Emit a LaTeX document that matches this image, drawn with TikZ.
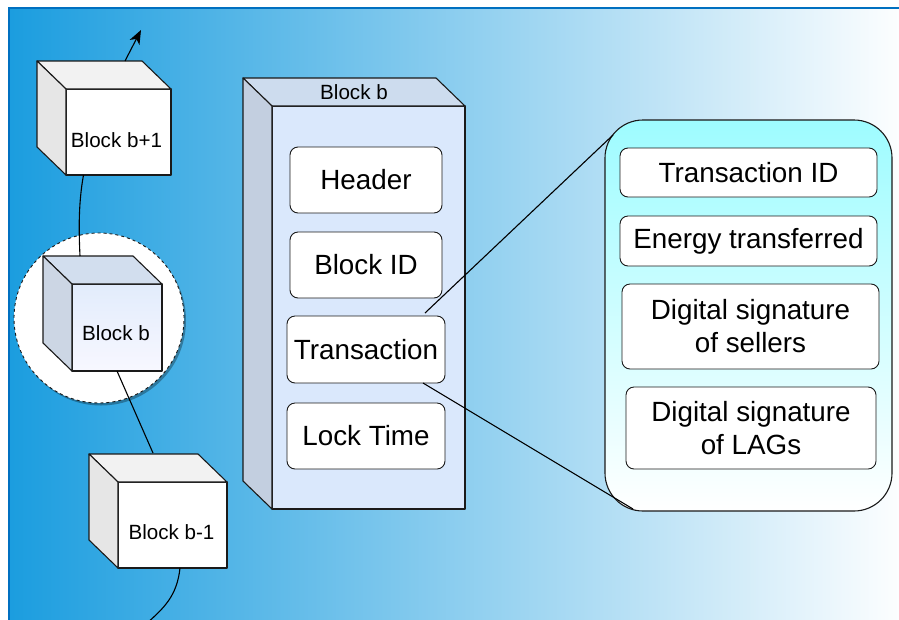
\documentclass[tikz,border=0pt]{standalone}
\usepackage{fontspec}
\setmainfont{Liberation Sans}
\usetikzlibrary{shadows,arrows.meta}

\definecolor{bgleft}{RGB}{27,157,223}
\definecolor{bgedge}{RGB}{0,112,192}
\definecolor{frontblue}{RGB}{218,232,252}
\definecolor{topblue}{RGB}{205,220,238}
\definecolor{sideblue}{RGB}{195,207,224}
\definecolor{cubeBtop}{RGB}{210,222,238}
\definecolor{cubeBside}{RGB}{204,214,228}
\definecolor{cubeBfront}{RGB}{226,236,252}
\definecolor{panelcyan}{RGB}{158,252,255}
\definecolor{greyside}{RGB}{230,230,230}
\definecolor{greytop}{RGB}{242,242,242}
\definecolor{ink}{RGB}{26,26,26}

% side and top faces of a cube whose front face is node #1
\newcommand\cubefaces[3]{%
  \filldraw[outline,fill=#3] (#1.north west) -- ++(-29,-28)
     -- ([shift={(-29,-28)}]#1.north east) -- (#1.north east) -- cycle;
  \filldraw[outline,fill=#2] (#1.north west) -- ++(-29,-28)
     -- ([shift={(-29,-28)}]#1.south west) -- (#1.south west) -- cycle;}

\begin{document}
\begin{tikzpicture}[x=1pt,y=-1pt,
  outline/.style={draw=ink,line width=1.1pt,line join=round},
  face/.style={outline,rectangle,outer sep=0pt,inner sep=0pt},
  field/.style={draw=ink,line width=0.9pt,rounded corners=8pt,fill=white,
    font=\fontsize{27.8}{33}\selectfont,align=center,inner sep=0pt,outer sep=0pt},
  blocklabel/.style={font=\fontsize{20.6}{24}\selectfont},
  link/.style={draw=black,line width=1.1pt}]

\useasboundingbox (0,0) rectangle (899,619);

% backdrop
\shade[left color=bgleft,right color=white] (9,8) rectangle (910,630);
\draw[bgedge,line width=1.4pt] (9,630) -- (9,8) -- (910,8);

% highlight around the current block
\node[circle,draw=ink,dashed,line width=0.9pt,fill=white,minimum size=170pt,
  drop shadow={shadow xshift=2pt,shadow yshift=-2.5pt,fill=black,opacity=0.3}]
  (focus) at (99,318) {};

% chain of blocks
\node[face,fill=white,minimum width=105pt,minimum height=86pt,
  label={[blocklabel,shift={(-2,8)}]center:Block b+1}] (cubeA) at (118.5,132) {};
\cubefaces{cubeA}{greyside}{greytop}

\node[face,top color=cubeBfront,bottom color=white!97!blue,minimum width=90pt,minimum height=87pt,
  label={[blocklabel,shift={(-1,6)}]center:Block b}] (cubeB) at (117,327.5) {};
\cubefaces{cubeB}{cubeBside}{cubeBtop}

\node[face,fill=white,minimum width=109pt,minimum height=86pt,
  label={[blocklabel,shift={(-1,7)}]center:Block b-1}] (cubeC) at (172.5,525) {};
\cubefaces{cubeC}{greyside}{greytop}

\coordinate (upEnd) at (141,30);
\coordinate (downEnd) at (146,624);

\draw[link,-{Stealth[length=14pt,width=11pt,inset=4pt]}] ([shift={(6.5,-28)}]cubeA.north) -- (upEnd);
\draw[link] ([xshift=-35]cubeA.south) .. controls (78,205) and (79,235) .. ([shift={(8,-28)}]cubeB.north west);
\draw[link] (cubeB.south) -- ([shift={(35,-29)}]cubeC.north west);
\draw[link] ([xshift=7.5]cubeC.south) .. controls (177,596) and (164,608) .. (downEnd);

% expanded block
\node[face,fill=frontblue,minimum width=193pt,minimum height=403pt] (blockb) at (368.5,307.5) {};
\cubefaces{blockb}{sideblue}{topblue}
\node[blocklabel] (blockbTitle) at ([shift={(-14.5,-14)}]blockb.north) {Block b};

\node[field,minimum width=152pt,minimum height=66pt] (header) at (366,180) {Header};
\node[field,minimum width=152pt,minimum height=66pt] (blockid) at (366,265) {Block ID};
\node[field,minimum width=158pt,minimum height=67pt] (tx) at (366,349.5) {Transaction};
\node[field,minimum width=158pt,minimum height=66pt] (locktime) at (366,436) {Lock Time};

% transaction details
\node[draw=ink,line width=1.1pt,rounded corners=38pt,top color=panelcyan,bottom color=white,
  minimum width=287pt,minimum height=391pt,inner sep=0pt,outer sep=0pt] (detail) at (748.5,315.5) {};

\node[field,minimum width=257pt,minimum height=49pt] (txid) at (748.5,172.5) {Transaction ID};
\node[field,minimum width=257pt,minimum height=50pt] (energy) at (748.5,241) {Energy transferred};
\node[field,minimum width=257pt,minimum height=85pt] (sellers) at (750.5,326.5) {Digital signature\\of sellers};
\node[field,minimum width=250pt,minimum height=82pt] (lags) at (751,428) {Digital signature\\of LAGs};

\draw[link] ([shift={(-20,-3)}]tx.north east) -- ([shift={(8,15)}]detail.north west);
\draw[link] ([xshift=-22]tx.south east) -- ([shift={(28,-2)}]detail.south west);

\end{tikzpicture}
\end{document}
